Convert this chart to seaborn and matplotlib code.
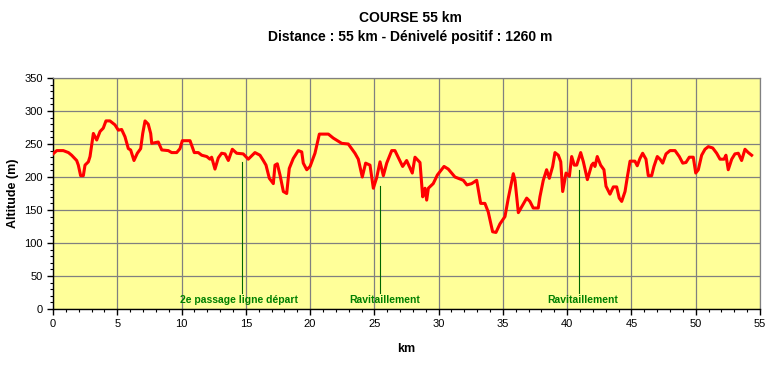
import pandas as pd
import matplotlib.pyplot as plt
import seaborn as sns
from matplotlib.ticker import MultipleLocator

# Profile (distance in km, altitude in m)
km = [0.0, 0.29, 0.8, 1.2, 1.45, 1.84, 1.97, 2.15, 2.36, 2.49, 2.75, 2.88, 3.14, 3.4, 3.66,
      3.91, 4.12, 4.43, 4.82, 5.08, 5.34, 5.6, 5.86, 6.04, 6.3, 6.56, 6.82, 6.98, 7.16, 7.41,
      7.6, 7.68, 7.93, 8.19, 8.46, 8.97, 9.23, 9.62, 9.88, 10.06, 10.66, 10.99, 11.3, 11.57,
      11.96, 12.21, 12.34, 12.6, 12.86, 13.12, 13.38, 13.64, 13.95, 14.29, 14.8, 15.19, 15.71,
      16.1, 16.36, 16.57, 16.83, 17.14, 17.27, 17.45, 17.66, 17.92, 18.18, 18.38, 18.69, 19.08,
      19.35, 19.47, 19.74, 20.0, 20.38, 20.72, 21.42, 21.8, 22.46, 22.97, 23.49, 23.75, 24.06,
      24.32, 24.66, 24.92, 25.18, 25.44, 25.7, 25.96, 26.35, 26.6, 27.2, 27.51, 27.95, 28.16,
      28.55, 28.76, 28.94, 29.07, 29.2, 29.58, 29.9, 30.42, 30.75, 31.27, 31.92, 32.2, 32.57,
      32.96, 33.09, 33.27, 33.6, 33.86, 34.2, 34.46, 34.77, 35.16, 35.42, 35.81, 35.94, 36.2,
      36.85, 37.1, 37.36, 37.75, 37.88, 38.14, 38.4, 38.61, 38.87, 39.05, 39.31, 39.5, 39.65,
      39.91, 40.17, 40.35, 40.55, 40.74, 41.05, 41.26, 41.57, 41.9, 42.03, 42.16, 42.34, 42.6,
      42.86, 43.02, 43.33, 43.59, 43.85, 44.05, 44.24, 44.5, 44.68, 44.89, 45.27, 45.45, 45.66,
      45.87, 46.13, 46.31, 46.57, 46.75, 47.01, 47.22, 47.43, 47.69, 48.0, 48.39, 48.72, 48.99,
      49.24, 49.5, 49.81, 50.0, 50.2, 50.46, 50.72, 50.98, 51.32, 51.63, 51.89, 52.2, 52.35,
      52.53, 52.8, 53.05, 53.31, 53.57, 53.83, 54.09, 54.35]
altitude = [235, 240, 240, 237, 233, 225, 218, 202, 202, 218, 223, 231, 266, 256, 269,
            274, 285, 285, 279, 271, 272, 261, 243, 241, 225, 236, 243, 266, 285, 280,
            266, 251, 252, 253, 241, 240, 237, 237, 243, 255, 255, 237, 237, 233,
            231, 227, 230, 212, 229, 236, 235, 225, 242, 236, 235, 227, 237,
            233, 225, 218, 198, 190, 218, 220, 203, 178, 175, 213, 228, 240,
            238, 221, 211, 216, 236, 265, 265, 259, 251, 250, 236, 227, 200,
            221, 218, 183, 199, 223, 202, 221, 240, 240, 216, 225, 206, 230,
            222, 170, 183, 165, 183, 190, 203, 216, 212, 200, 195, 188, 190,
            195, 180, 160, 160, 147, 117, 116, 129, 140, 168, 205, 195, 146,
            168, 163, 153, 153, 170, 195, 211, 198, 216, 237, 233, 223, 178,
            206, 201, 231, 218, 218, 237, 223, 196, 218, 221, 216, 231, 218,
            211, 186, 174, 185, 185, 168, 163, 178, 200, 224, 224, 217, 228,
            236, 227, 202, 202, 216, 231, 227, 221, 235, 240, 240, 231, 221,
            222, 230, 230, 206, 211, 233, 242, 246, 244, 236, 227, 227, 233,
            211, 227, 235, 236, 225, 242, 237, 233]

# Markers along the course
marker_km = [14.7, 25.4, 40.9]
marker_top = [223, 186, 210]
marker_label_km = [14.5, 25.8, 41.2]
marker_labels = ['2e passage ligne départ', 'Ravitaillement', 'Ravitaillement']

df = pd.DataFrame({'km': km, 'altitude': altitude})

plt.rcParams['font.family'] = ['Liberation Sans', 'DejaVu Sans']

fig = plt.figure(figsize=(7.73, 3.65), dpi=100)
ax = fig.add_axes([53 / 773, 56 / 365, 707 / 773, 231 / 365])
ax.set_facecolor('#FFFF99')

grid_color = '#808080'
ax.set_xlim(0, 55)
ax.set_ylim(0, 350)
ax.xaxis.set_major_locator(MultipleLocator(5))
ax.xaxis.set_minor_locator(MultipleLocator(1))
ax.yaxis.set_major_locator(MultipleLocator(50))
ax.yaxis.set_minor_locator(MultipleLocator(10))
ax.grid(True, which='major', color=grid_color, linewidth=0.9, zorder=0)
ax.set_axisbelow(True)

for x, top in zip(marker_km, marker_top):
    ax.plot([x, x], [24, top], color='#006600', linewidth=0.8, zorder=2)
for x, lab in zip(marker_label_km, marker_labels):
    ax.text(x, 13, lab, color='#008000', fontsize=7.5, fontweight='bold',
            ha='center', va='center', zorder=3)

sns.lineplot(data=df, x='km', y='altitude', ax=ax, color='#FF0000',
             linewidth=2.2, estimator=None, zorder=4)

for side in ['top', 'right']:
    ax.spines[side].set_color(grid_color)
    ax.spines[side].set_linewidth(0.9)
for side in ['left', 'bottom']:
    ax.spines[side].set_color('black')
    ax.spines[side].set_linewidth(1.0)

ax.tick_params(which='major', direction='out', length=4, width=1, labelsize=8, colors='black')
ax.tick_params(which='minor', direction='out', length=2, width=0.8)

ax.set_xlabel('km', fontsize=9, fontweight='bold')
ax.set_ylabel('Altitude (m)', fontsize=9, fontweight='bold')
ax.xaxis.set_label_coords((406 - 53) / 707, (309 - 349) / 231)
ax.yaxis.set_label_coords((13 - 53) / 707, 0.5)
ax.yaxis.label.set_va('center')
ax.xaxis.label.set_va('center')

fig.text(410 / 773, 1 - 18 / 365, 'COURSE 55 km', ha='center', va='center',
         fontsize=10, fontweight='bold')
fig.text(410 / 773, 1 - 37 / 365, 'Distance : 55 km - Dénivelé positif : 1260 m',
         ha='center', va='center', fontsize=10, fontweight='bold')

fig.savefig('out.png', dpi=100, facecolor='white')
